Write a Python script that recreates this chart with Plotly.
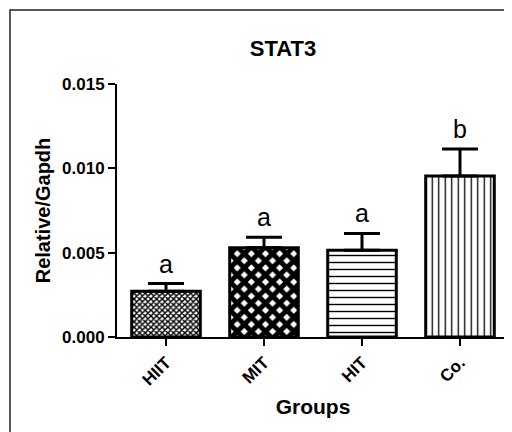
import plotly.graph_objects as go

groups = ["HIIT", "MIT", "HIT", "Co."]
values = [0.00271, 0.00529, 0.00515, 0.00954]
errors = [0.00046, 0.00062, 0.00099, 0.00161]
letters = ["a", "a", "a", "b"]
y_ticks = [0.0, 0.005, 0.010, 0.015]
y_tick_labels = ["0.000", "0.005", "0.010", "0.015"]

pat_shapes = ["x", "x", "-", "|"]
pat_sizes = [4, 10, 7, 6.5]
pat_solid = [0.6, 0.75, 0.2, 0.2]

fig = go.Figure()
fig.add_trace(go.Bar(
    x=groups, y=values, width=0.7,
    marker=dict(color="white", line=dict(color="black", width=3),
                pattern=dict(shape=pat_shapes, size=pat_sizes, solidity=pat_solid,
                             fgcolor="black", bgcolor="white", fillmode="replace")),
    error_y=dict(type="data", array=errors, arrayminus=[0] * len(errors), symmetric=False,
                 color="black", thickness=3, width=18),
    showlegend=False,
))

for g, v, e, t in zip(groups, values, errors, letters):
    fig.add_annotation(x=g, y=v + e, text=t, showarrow=False, yanchor="bottom", yshift=4,
                       font=dict(family="Liberation Sans, Arial", size=25, color="black"))

fig.add_shape(type="rect", xref="paper", yref="paper", x0=-0.273, x1=1.06, y0=-0.45, y1=1.292,
              line=dict(color="#222", width=1.5), fillcolor="rgba(0,0,0,0)", layer="below")

fig.update_layout(
    width=504, height=424,
    margin=dict(l=109, r=3, t=76, b=95),
    paper_bgcolor="white", plot_bgcolor="white",
    font=dict(family="Liberation Sans, Arial", color="black"),
    title=dict(text="<b>STAT3</b>", xref="container", x=0.5456, xanchor="center",
               yref="container", y=0.9057, yanchor="middle",
               font=dict(size=22, color="black")),
    xaxis=dict(range=[-0.5, 3.5], showline=True, linecolor="black", linewidth=2,
               ticks="outside", ticklen=7, tickwidth=2, tickcolor="black",
               tickangle=-45, tickfont=dict(size=17, color="black"),
               tickprefix="<b>", ticksuffix="</b>",
               title=dict(text="<b>Groups</b>", font=dict(size=21), standoff=11),
               showgrid=False, zeroline=False, fixedrange=True),
    yaxis=dict(range=[0, 0.015], tickvals=y_ticks, ticktext=["<b>" + s + "</b>" for s in y_tick_labels],
               showline=True, linecolor="black", linewidth=2,
               ticks="outside", ticklen=7, tickwidth=2, tickcolor="black",
               tickfont=dict(size=17, color="black"),
               title=dict(text="<b>Relative/Gapdh</b>", font=dict(size=20), standoff=6),
               showgrid=False, zeroline=False, fixedrange=True),
    bargap=0.3,
)

fig.write_html("out.html")
